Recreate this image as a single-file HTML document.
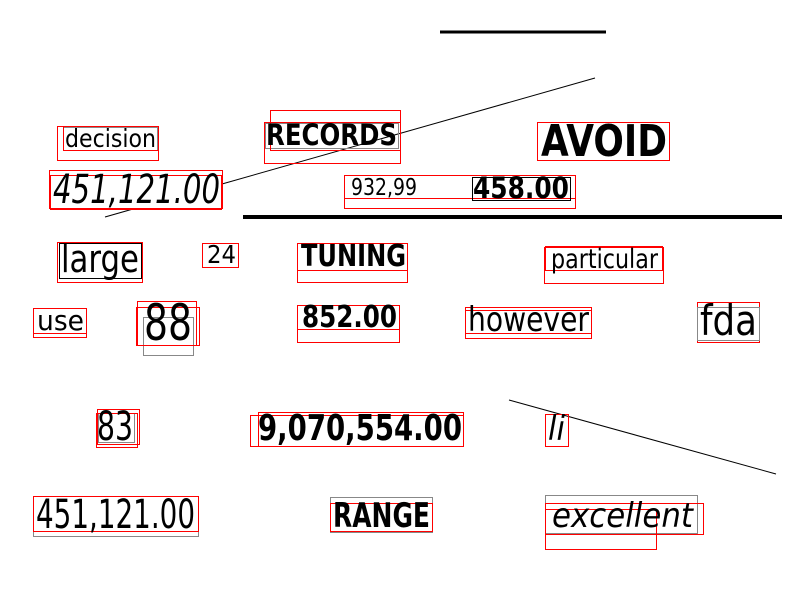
<!DOCTYPE html>
<html><head><meta charset="utf-8"><style>html,body{margin:0;padding:0;background:#fff}svg{display:block}</style></head>
<body>
<svg width="800" height="600" xmlns="http://www.w3.org/2000/svg" font-family="'DejaVu Sans','Liberation Sans',sans-serif">
<rect width="800" height="600" fill="#fff"/>
<line x1="440" y1="32" x2="606" y2="32" stroke="#000" stroke-width="3"/>
<line x1="595" y1="78" x2="222" y2="184" stroke="#000" stroke-width="1"/>
<line x1="105" y1="217" x2="133" y2="209" stroke="#000" stroke-width="1"/>
<line x1="243" y1="217" x2="782" y2="217" stroke="#000" stroke-width="4"/>
<line x1="509" y1="400" x2="776" y2="474" stroke="#000" stroke-width="1"/>
<g fill="none" stroke-width="1">
<rect x="63.5" y="127.5" width="94" height="23" stroke="#888"/>
<rect x="63.5" y="126.5" width="95" height="24" stroke="red"/>
<rect x="57.5" y="126.5" width="101" height="34" stroke="red"/>
<rect x="265.5" y="123.5" width="133" height="25" stroke="#888"/>
<rect x="270.5" y="110.5" width="130" height="40" stroke="red"/>
<rect x="264.5" y="122.5" width="136" height="41" stroke="red"/>
<rect x="49.5" y="170.5" width="173" height="38" stroke="red"/>
<rect x="50.5" y="175.5" width="171" height="34" stroke="red"/>
<rect x="344.5" y="175.5" width="231" height="33" stroke="red"/>
<rect x="344.5" y="175.5" width="231" height="23" stroke="red"/>
<rect x="472.5" y="177.5" width="98" height="23" stroke="#000"/>
<rect x="537.5" y="122.5" width="132" height="38" stroke="red"/>
<rect x="59.5" y="243.5" width="82" height="35" stroke="#000"/>
<rect x="57.5" y="242.5" width="85" height="40" stroke="red"/>
<rect x="202.5" y="243.5" width="36" height="24" stroke="red"/>
<rect x="297.5" y="243.5" width="110" height="27" stroke="red"/>
<rect x="297.5" y="243.5" width="110" height="39" stroke="red"/>
<rect x="545.5" y="246.5" width="117" height="24" stroke="red"/>
<rect x="544.5" y="247.5" width="119" height="36" stroke="red"/>
<rect x="33.5" y="308.5" width="53" height="25" stroke="red"/>
<rect x="33.5" y="308.5" width="53" height="29" stroke="red"/>
<rect x="143.5" y="317.5" width="50" height="38" stroke="#888"/>
<rect x="137.5" y="301.5" width="59" height="44" stroke="red"/>
<rect x="136.5" y="307.5" width="63" height="38" stroke="red"/>
<rect x="297.5" y="305.5" width="102" height="24" stroke="red"/>
<rect x="297.5" y="305.5" width="102" height="37" stroke="red"/>
<rect x="465.5" y="307.5" width="126" height="26" stroke="red"/>
<rect x="465.5" y="310.5" width="126" height="28" stroke="red"/>
<rect x="697.5" y="302.5" width="62" height="40" stroke="red"/>
<rect x="697.5" y="307.5" width="62" height="33" stroke="#888"/>
<rect x="98.5" y="413.5" width="36" height="29" stroke="#888"/>
<rect x="97.5" y="409.5" width="42" height="35" stroke="red"/>
<rect x="96.5" y="413.5" width="41" height="34" stroke="red"/>
<rect x="258.5" y="412.5" width="205" height="34" stroke="red"/>
<rect x="250.5" y="415.5" width="213" height="31" stroke="red"/>
<rect x="545.5" y="414.5" width="23" height="32" stroke="red"/>
<rect x="33.5" y="496.5" width="165" height="40" stroke="#888"/>
<rect x="33.5" y="496.5" width="165" height="35" stroke="red"/>
<rect x="330.5" y="497.5" width="102" height="35" stroke="#888"/>
<rect x="330.5" y="503.5" width="102" height="28" stroke="red"/>
<rect x="545.5" y="495.5" width="152" height="38" stroke="#888"/>
<rect x="545.5" y="503.5" width="158" height="31" stroke="red"/>
<rect x="545.5" y="509.5" width="111" height="40" stroke="red"/>
</g>
<g fill="#000">
<text x="65" y="147" font-size="25" textLength="91" lengthAdjust="spacingAndGlyphs">decision</text>
<text x="266" y="145" font-size="29" font-weight="bold" textLength="131" lengthAdjust="spacingAndGlyphs">RECORDS</text>
<text x="53" y="203" font-size="40" font-style="italic" textLength="167" lengthAdjust="spacingAndGlyphs">451,121.00</text>
<text x="351" y="195" font-size="23" textLength="66" lengthAdjust="spacingAndGlyphs">932,99</text>
<text x="473" y="198" font-size="29" font-weight="bold" textLength="96" lengthAdjust="spacingAndGlyphs">458.00</text>
<text x="541" y="156" font-size="44" font-weight="bold" textLength="126" lengthAdjust="spacingAndGlyphs">AVOID</text>
<text x="61" y="272" font-size="38" textLength="78" lengthAdjust="spacingAndGlyphs">large</text>
<text x="207" y="263" font-size="25" textLength="29" lengthAdjust="spacingAndGlyphs">24</text>
<text x="301" y="266" font-size="30" font-weight="bold" textLength="105" lengthAdjust="spacingAndGlyphs">TUNING</text>
<text x="551" y="268" font-size="27" textLength="107" lengthAdjust="spacingAndGlyphs">particular</text>
<text x="37" y="330" font-size="28" textLength="47" lengthAdjust="spacingAndGlyphs">use</text>
<text x="144" y="340" font-size="50" textLength="48" lengthAdjust="spacingAndGlyphs">88</text>
<text x="302" y="327" font-size="30" font-weight="bold" textLength="95" lengthAdjust="spacingAndGlyphs">852.00</text>
<text x="468" y="331" font-size="34" textLength="121" lengthAdjust="spacingAndGlyphs">however</text>
<text x="700" y="335" font-size="42" textLength="57" lengthAdjust="spacingAndGlyphs">fda</text>
<text x="97" y="440" font-size="40" textLength="36" lengthAdjust="spacingAndGlyphs">83</text>
<text x="258" y="440" font-size="36" font-weight="bold" textLength="204" lengthAdjust="spacingAndGlyphs">9,070,554.00</text>
<text x="548" y="440" font-size="34" font-style="italic" textLength="17" lengthAdjust="spacingAndGlyphs">li</text>
<text x="36" y="528" font-size="40" textLength="159" lengthAdjust="spacingAndGlyphs">451,121.00</text>
<text x="333" y="527" font-size="34" font-weight="bold" textLength="97" lengthAdjust="spacingAndGlyphs">RANGE</text>
<text x="552" y="527" font-size="34" font-style="italic" textLength="141" lengthAdjust="spacingAndGlyphs">excellent</text>
</g>
</svg>
</body></html>
